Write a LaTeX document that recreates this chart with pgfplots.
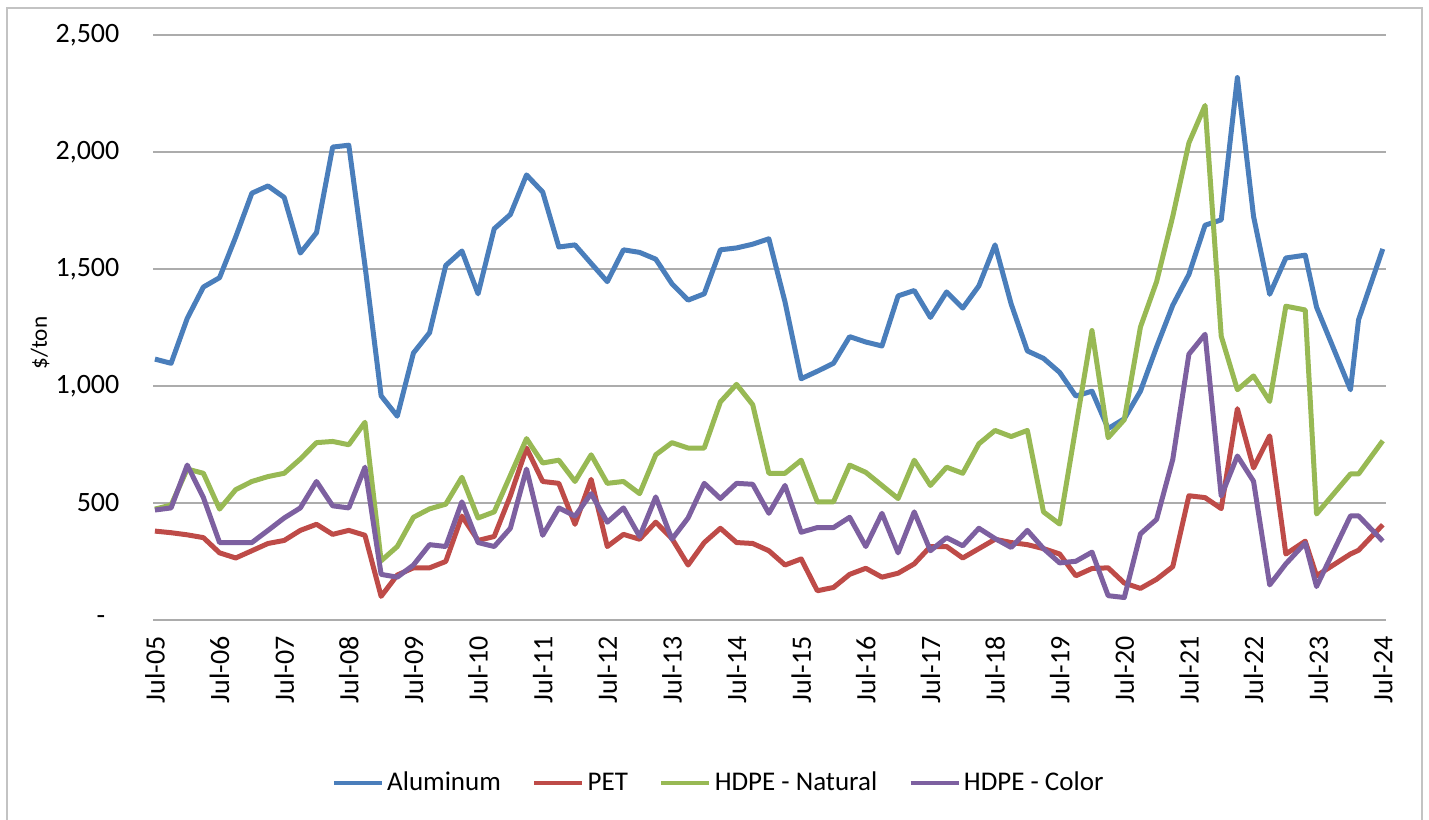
\documentclass[border=0pt]{standalone}
\usepackage{fontspec}
\setmainfont{Carlito}
\usepackage{pgfplots}
\pgfplotsset{compat=1.18}
\usepackage{pgfplotstable}

\definecolor{alblue}{RGB}{74,126,187}
\definecolor{petred}{RGB}{190,75,72}
\definecolor{hdpegreen}{RGB}{152,185,84}
\definecolor{hdpepurple}{RGB}{125,96,160}
\definecolor{gridgray}{RGB}{172,172,172}
\definecolor{framegray}{RGB}{195,195,195}

% q = quarters since Jul-05; prices in $/ton
\pgfplotstableread{
q     al    pet  hn    hc
0     1115  380  474   470
1     1097  373  491   479
2     1289  364  645   662
3     1423  352  627   523
4     1463  287  474   331
5     1637  265  557   331
6     1824  296  592   331
7     1855  327  613   383
8     1806  340  627   436
9     1568  383  688   479
10    1655  409  758   592
11    2021  366  763   488
12    2029  383  749   479
13    1515  362  845   653
14    958   101  253   195
15    871   192  314   183
16    1141  223  439   235
17    1228  223  475   322
18    1515  250  495   314
19    1577  444  610   505
20    1394  340  436   331
21    1672  357  462   314
22    1733  531  618   392
23    1902  735  775   645
24    1829  592  671   362
25    1594  584  683   479
26    1603  409  592   444
27    1524  601  706   540
28    1446  314  584   418
29    1582  366  592   479
30    1571  345  540   357
31    1542  418  706   526
32    1437  348  758   345
33    1367  235  735   436
34    1394  331  735   584
35    1582  392  932   519
36    1590  331  1007  584
37    1606  327  920   580
38    1629  296  627   456
39    1359  235  627   575
40    1031  261  683   375
41    1063  125  505   395
42    1097  139  505   395
43    1211  195  662   439
44    1188  221  631   314
45    1171  183  575   456
46    1385  200  519   287
47    1408  240  683   462
48    1293  314  575   296
49    1402  314  653   352
50    1333  265  627   317
51    1428  305  753   392
52    1603  345  810   348
53    1350  331  784   310
54    1150  322  810   383
55    1118  305  462   305
56    1058  282  410   244
57    957   189  824   251
58    978   220  1237  290
59    818   223  779   104
60    860   158  856   96
61    978   135  1252  368
62    1167  174  1446  430
63    1345  228  1725  686
64    1477  531  2039  1136
65    1687  523  2199  1221
66    1710  476  1213  530
67    2318  903  984   701
68    1725  650  1043  593
69    1392  787  934   150
70    1547  282  1341  240
71.2  1559  337  1325  329
71.9  1337  189  453   143
74    984   282  624   445
74.5  1283  298  624   445
76    1586  407  766   337
}\prices

\begin{document}
\begin{tikzpicture}
\useasboundingbox (0pt,0pt) rectangle (714.5pt,409.5pt);
\draw[framegray, line width=1pt] (3.5pt,-3pt) rectangle (711pt,405.5pt);
\begin{axis}[
    at={(76.5pt,99.5pt)}, anchor=south west,
    scale only axis, width=616.5pt, height=292.5pt,
    xmin=-0.12, xmax=76.2,
    ymin=0, ymax=2500,
    xtick={0,4,...,76},
    xticklabels={Jul-05,Jul-06,Jul-07,Jul-08,Jul-09,Jul-10,Jul-11,Jul-12,Jul-13,Jul-14,
                 Jul-15,Jul-16,Jul-17,Jul-18,Jul-19,Jul-20,Jul-21,Jul-22,Jul-23,Jul-24},
    ytick={0,500,1000,1500,2000,2500},
    yticklabels={{-\hphantom{0}},{500},{1,000},{1,500},{2,000},{2,500}},
    ymajorgrids, grid style={gridgray, line width=0.75pt},
    axis x line*=bottom, axis y line*=left,
    x axis line style={gridgray, line width=1pt, -},
    y axis line style={draw=none},
    tick style={draw=none},
    xticklabel style={font=\fontsize{14}{16}\selectfont, rotate=90, anchor=east, xshift=-4.5pt},
    yticklabel style={font=\fontsize{14}{16}\selectfont, anchor=east, xshift=-13.3pt},
    ylabel={\$/ton},
    ylabel style={font=\fontsize{11.6}{13}\selectfont, at={(axis description cs:-0.0916,0.4735)}, anchor=center},
    legend columns=4,
    legend style={draw=none, fill=none, at={(axis description cs:0.459,-0.2786)}, anchor=center,
                  font=\fontsize{13.5}{16}\selectfont,
                  nodes={inner xsep=1.5pt},
                  /tikz/every even column/.append style={column sep=14pt}},
    legend image code/.code={\draw[#1, line width=2.4pt] (0pt,0pt) -- (24pt,0pt);},
    every axis plot/.append style={line width=2.5pt, line join=round, mark=none},
  ]
  \addplot[alblue] table[x=q, y=al] {\prices};
  \addlegendentry{Aluminum}
  \addplot[petred] table[x=q, y=pet] {\prices};
  \addlegendentry{PET}
  \addplot[hdpegreen] table[x=q, y=hn] {\prices};
  \addlegendentry{HDPE - Natural}
  \addplot[hdpepurple] table[x=q, y=hc] {\prices};
  \addlegendentry{HDPE - Color}
\end{axis}
\end{tikzpicture}
\end{document}
